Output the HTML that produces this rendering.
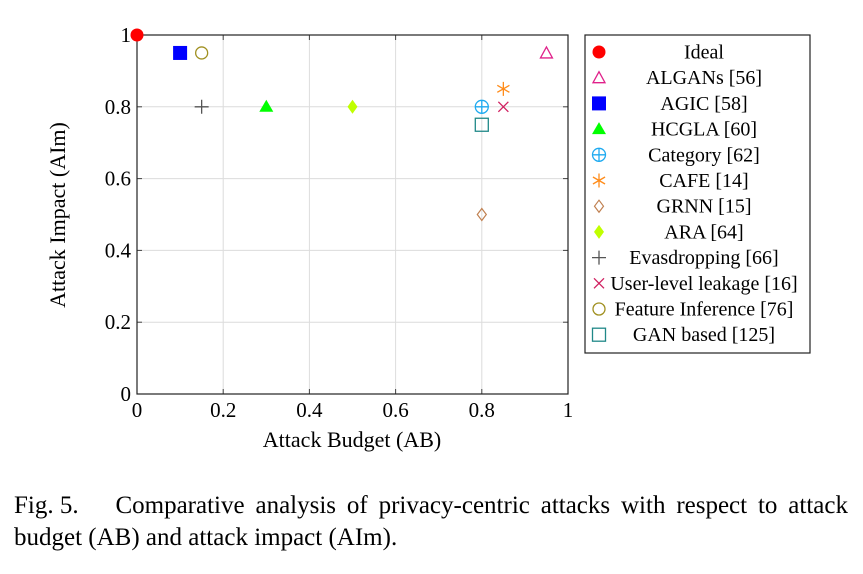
<!DOCTYPE html>
<html><head><meta charset="utf-8"><style>
body{margin:0;background:#fff;}
svg text{font-family:"Liberation Serif",serif;fill:#000;}
</style></head><body>
<svg id="c" width="863" height="569" xmlns="http://www.w3.org/2000/svg"></svg>
<script>
const names=["Ideal","ALGANs [56]","AGIC [58]","HCGLA [60]","Category [62]","CAFE [14]","GRNN [15]","ARA [64]","Evasdropping [66]","User-level leakage [16]","Feature Inference [76]","GAN based [125]"];
const xVals=[0,0.95,0.1,0.3,0.8,0.85,0.8,0.5,0.15,0.85,0.15,0.8];
const yVals=[1,0.95,0.95,0.8,0.8,0.85,0.5,0.8,0.8,0.8,0.95,0.75];
const xTicks=[0,0.2,0.4,0.6,0.8,1];
const yTicks=[0,0.2,0.4,0.6,0.8,1];
const kinds=["fcircle","otri","fsquare","ftri","oplus","star","odiamond","fdiamond","plus","cross","ocircle","osquare"];
const colors=["#ff0000","#e0208a","#0000ff","#00ff00","#1eaaf0","#ff8c1a","#c08050","#c0ff00","#555555","#d02060","#a09020","#208888"];
const NS="http://www.w3.org/2000/svg";
const svg=document.getElementById('c');
const X0=137,X1=568,Y0=394,Y1=35;
const sx=v=>X0+v*(X1-X0), sy=v=>Y0-v*(Y0-Y1);
function mk(t,a,p){const e=document.createElementNS(NS,t);for(const k in a)e.setAttribute(k,a[k]);(p||svg).appendChild(e);return e;}
xTicks.forEach((t,i)=>{
 const g=mk('line',{x1:sx(t),x2:sx(t),y1:Y1,y2:Y0,stroke:'#dcdcdc','stroke-width':1});
 
 
 mk('line',{x1:sx(t),x2:sx(t),y1:Y0,y2:Y0-5,stroke:'#444'});
 mk('line',{x1:sx(t),x2:sx(t),y1:Y1,y2:Y1+5,stroke:'#444'});
 const tx=mk('text',{x:sx(t),y:Y0+23,'text-anchor':'middle','font-size':21});tx.textContent=String(t);
 
 
});
yTicks.forEach(t=>{
 const g=mk('line',{x1:X0,x2:X1,y1:sy(t),y2:sy(t),stroke:'#dcdcdc','stroke-width':1});
 
 
 mk('line',{x1:X0,x2:X0+5,y1:sy(t),y2:sy(t),stroke:'#444'});
 mk('line',{x1:X1,x2:X1-5,y1:sy(t),y2:sy(t),stroke:'#444'});
 const tx=mk('text',{x:X0-6,y:sy(t)+7,'text-anchor':'end','font-size':21});tx.textContent=String(t);
 
 
});
const fr=mk('rect',{x:X0,y:Y1,width:X1-X0,height:Y0-Y1,fill:'none',stroke:'#222','stroke-width':1.2});


function marker(k,c,x,y,p){
 switch(k){
 case 'fcircle':return mk('circle',{cx:x,cy:y,r:6.5,fill:c},p);
 case 'ocircle':return mk('circle',{cx:x,cy:y,r:6,fill:'none',stroke:c,'stroke-width':1.3},p);
 case 'fsquare':return mk('rect',{x:x-7,y:y-7,width:14,height:14,fill:c},p);
 case 'osquare':return mk('rect',{x:x-6.5,y:y-6.5,width:13,height:13,fill:'none',stroke:c,'stroke-width':1.3},p);
 case 'ftri':return mk('polygon',{points:`${x},${y-7} ${x-7},${y+5} ${x+7},${y+5}`,fill:c},p);
 case 'otri':return mk('polygon',{points:`${x},${y-6} ${x-6},${y+5} ${x+6},${y+5}`,fill:'none',stroke:c,'stroke-width':1.3},p);
 case 'fdiamond':return mk('polygon',{points:`${x},${y-7} ${x+5},${y} ${x},${y+7} ${x-5},${y}`,fill:c},p);
 case 'odiamond':return mk('polygon',{points:`${x},${y-6} ${x+4.5},${y} ${x},${y+6} ${x-4.5},${y}`,fill:'none',stroke:c,'stroke-width':1.2},p);
 case 'oplus':return mk('path',{d:`M${x-6.5},${y}a6.5,6.5 0 1,0 13,0a6.5,6.5 0 1,0 -13,0M${x-6.5},${y}H${x+6.5}M${x},${y-6.5}V${y+6.5}`,fill:'none',stroke:c,'stroke-width':1.3},p);
 case 'plus':return mk('path',{d:`M${x-7},${y}H${x+7}M${x},${y-7}V${y+7}`,stroke:c,'stroke-width':1.3},p);
 case 'cross':return mk('path',{d:`M${x-5},${y-5}L${x+5},${y+5}M${x+5},${y-5}L${x-5},${y+5}`,stroke:c,'stroke-width':1.3},p);
 case 'star':{let d='';for(let i=0;i<3;i++){const a=Math.PI/2+i*Math.PI/3;d+=`M${x+7*Math.cos(a)},${y-7*Math.sin(a)}L${x-7*Math.cos(a)},${y+7*Math.sin(a)}`;}return mk('path',{d,stroke:c,'stroke-width':1.3},p);}
 }
}
names.forEach((n,i)=>{
 const m=marker(kinds[i],colors[i],sx(xVals[i]),sy(yVals[i]));
 
 
});
const lg=mk('rect',{x:585,y:35,width:225,height:318,fill:'#fff',stroke:'#222','stroke-width':1.2});


names.forEach((n,i)=>{
 const y=52+i*25.7;
 const m=marker(kinds[i],colors[i],599,y);
 
 
 const t=mk('text',{x:704,y:y+6.5,'text-anchor':'middle','font-size':20});t.textContent=n;
 
 
});
</script>
<div style="position:absolute;left:0;top:0;width:863px;height:569px;pointer-events:none;font-family:'Liberation Serif',serif;">
<div style="position:absolute;left:352px;top:427px;font-size:22px;transform:translateX(-50%);white-space:nowrap;">Attack Budget (AB)</div>
<div style="position:absolute;left:58px;top:215px;font-size:22px;transform:translate(-50%,-50%) rotate(-90deg);white-space:nowrap;">Attack Impact (AIm)</div>
<div style="position:absolute;left:14px;top:490px;width:834px;font-size:25px;line-height:32px;">
<div style="text-align:justify;text-align-last:justify;white-space:nowrap;display:flex;justify-content:space-between;"><span>Fig. 5.</span><span style="margin-left:26px">Comparative</span><span>analysis</span><span>of</span><span>privacy-centric</span><span>attacks</span><span>with</span><span>respect</span><span>to</span><span>attack</span></div>
<div>budget (AB) and attack impact (AIm).</div>
</div>
</div>
</body></html>
